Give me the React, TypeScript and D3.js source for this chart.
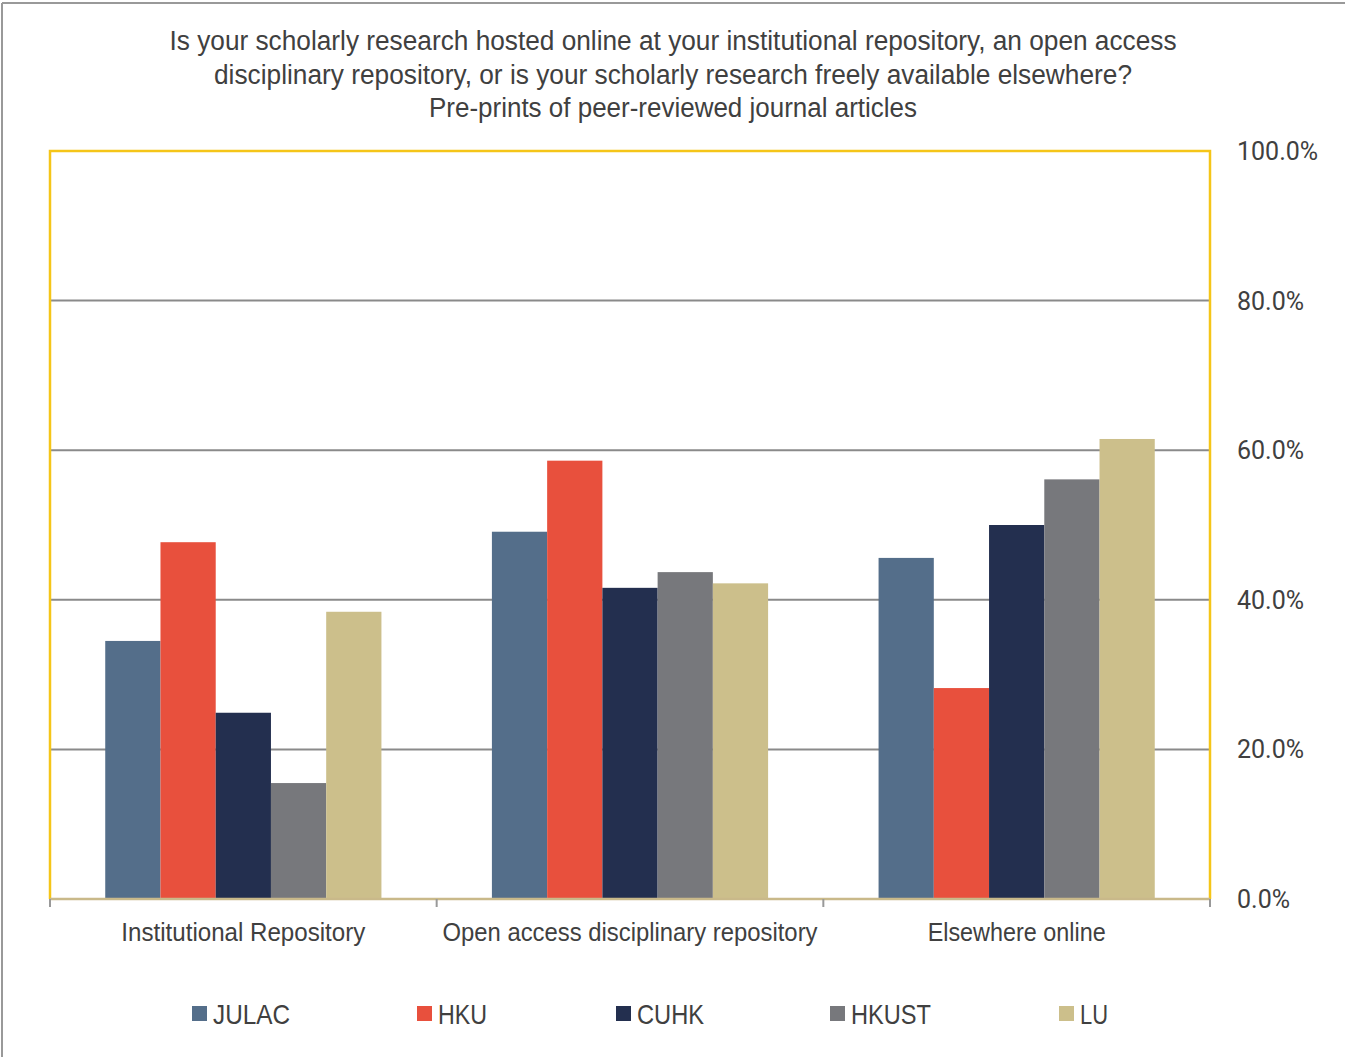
import React from "react";
import * as d3 from "d3";

const categories = ["Institutional Repository", "Open access disciplinary repository", "Elsewhere online"];
const seriesNames = ["JULAC", "HKU", "CUHK", "HKUST", "LU"];
const seriesColors = ["#546E8A", "#E8503D", "#232F4F", "#77787C", "#CCBF8B"];
const julac = [34.5, 49.1, 45.6];
const hku = [47.7, 58.6, 28.2];
const cuhk = [24.9, 41.6, 50.0];
const hkust = [15.5, 43.7, 56.1];
const lu = [38.4, 42.2, 61.5];
const seriesValues = [julac, hku, cuhk, hkust, lu];
const yTicks = [0, 20, 40, 60, 80, 100];
const titleLines = [
  "Is your scholarly research hosted online at your institutional repository, an open access",
  "disciplinary repository, or is your scholarly research freely available elsewhere?",
  "Pre-prints of peer-reviewed journal articles",
];
const titleWidths = [1007, 918, 488];
const categoryWidths = [244, 375, 178];
const legendX = [192, 417, 616, 830, 1059];
const legendWidths = [77, 49, 67, 80, 28];

const W = 1345;
const H = 1057;
const narrow = "'Liberation Sans Narrow', 'Arial Narrow', 'Liberation Sans', sans-serif";

export default function App() {
  const left = 50, right = 1210, top = 151, bottom = 899;
  const x0 = d3.scaleBand<string>().domain(categories).range([left, right]).paddingInner(0).paddingOuter(0);
  const y = d3.scaleLinear().domain([0, 100]).range([bottom, top]);
  const bw = x0.bandwidth() / 7;
  const x1 = d3.scaleBand<string>().domain(seriesNames).range([bw, bw * 6]);

  return (
    <svg width={W} height={H} style={{ position: "absolute", left: 0, top: 0, background: "#fff" }}>
      <rect x={0} y={0} width={W} height={H} fill="#fff" />
      <line x1={2} y1={3} x2={W} y2={3} stroke="#999" strokeWidth={2} />
      <line x1={2} y1={3} x2={2} y2={H} stroke="#999" strokeWidth={2} />
      {titleLines.map((t, i) => (
        <text
          key={i}
          x={673}
          y={50 + i * 33.5}
          textAnchor="middle"
          fontFamily={narrow}
          fontSize={27}
          fill="#404040"
          textLength={titleWidths[i]}
          lengthAdjust="spacingAndGlyphs"
        >
          {t}
        </text>
      ))}
      {yTicks.filter((t) => t > 0 && t < 100).map((t) => (
        <line key={t} x1={left} x2={right} y1={y(t)} y2={y(t)} stroke="#8a8a8a" strokeWidth={2} />
      ))}
      {seriesValues.map((vals, si) =>
        categories.map((c, ci) => (
          <rect
            key={si + "-" + ci}
            x={(x0(c) as number) + (x1(seriesNames[si]) as number)}
            y={y(vals[ci])}
            width={x1.bandwidth()}
            height={bottom - y(vals[ci])}
            fill={seriesColors[si]}
          />
        ))
      )}
      <path d={`M${left},${bottom} V${top} H${right} V${bottom}`} fill="none" stroke="#F5C518" strokeWidth={2.5} />
      <line x1={left} x2={right} y1={bottom} y2={bottom} stroke="#C9B98A" strokeWidth={2.5} />
      {[...categories.map((c) => x0(c) as number), right].map((xx, i) => (
        <line key={i} x1={xx} x2={xx} y1={bottom} y2={bottom + 8} stroke="#999" strokeWidth={2} />
      ))}
      {yTicks.map((t) => (
        <text key={t} x={1237} y={y(t) + 9} fontFamily="Roboto, sans-serif" fontSize={25} fill="#404040">
          {d3.format(".1f")(t) + "%"}
        </text>
      ))}
      {categories.map((c, i) => (
        <text
          key={c}
          x={(x0(c) as number) + x0.bandwidth() / 2}
          y={941}
          textAnchor="middle"
          fontFamily={narrow}
          fontSize={26}
          fill="#404040"
          textLength={categoryWidths[i]}
          lengthAdjust="spacingAndGlyphs"
        >
          {c}
        </text>
      ))}
      {seriesNames.map((s, i) => (
        <g key={s}>
          <rect x={legendX[i]} y={1006} width={15} height={15} fill={seriesColors[i]} />
          <text
            x={legendX[i] + 21}
            y={1024}
            fontFamily={narrow}
            fontSize={28}
            fill="#404040"
            textLength={legendWidths[i]}
            lengthAdjust="spacingAndGlyphs"
          >
            {s}
          </text>
        </g>
      ))}
    </svg>
  );
}
